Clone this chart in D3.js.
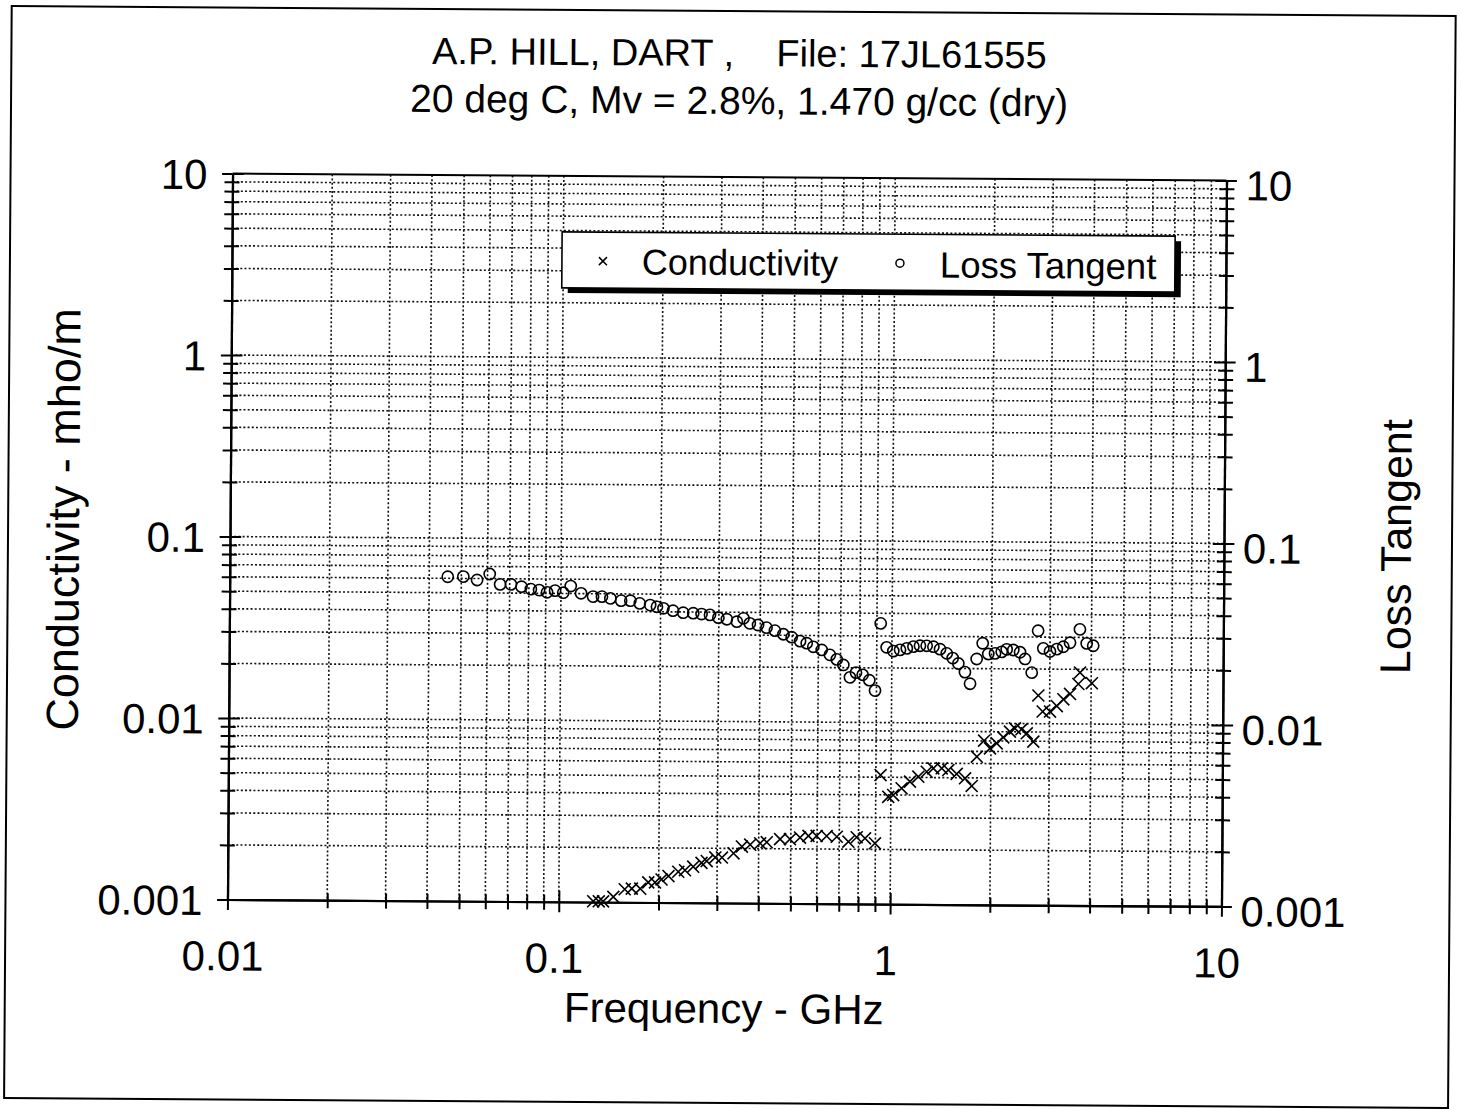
<!DOCTYPE html>
<html><head><meta charset="utf-8">
<script src="https://cdn.jsdelivr.net/npm/d3@7"></script>
<style>
html,body{margin:0;padding:0;background:#fff;}
svg text{font-family:"Liberation Sans",Arial,Helvetica,sans-serif;fill:#000;white-space:pre;}
</style></head>
<body>
<svg id="c" width="1461" height="1109"></svg>
<script>
// ---- data ----
const titleLines = ["A.P. HILL, DART ,    File: 17JL61555", "20 deg C, Mv = 2.8%, 1.470 g/cc (dry)"];
const xTickLabels = ["0.01", "0.1", "1", "10"];
const yTickLabels = ["0.001", "0.01", "0.1", "1", "10"];
const xTickValues = [0.01, 0.1, 1, 10];
const yTickValues = [0.001, 0.01, 0.1, 1, 10];

const lossFreq = [0.0455,0.0507,0.0558,0.0609,0.0655,0.0706,0.076,0.0811,0.0859,0.0908,0.096,0.1016,0.107,0.115,0.125,0.133,0.141,0.152,0.162,0.173,0.186,0.195,
  0.204,0.218,0.234,0.251,0.266,0.282,0.299,0.317,0.340,0.356,0.372,0.394,0.418,0.443,0.470,0.498,0.528,0.553,0.579,0.614,0.650,0.682,0.714,0.748,0.780,0.817,0.856,0.891,
  0.924,0.964,1.01,1.058,1.109,1.161,1.215,1.273,1.334,1.397,1.464,1.526,1.588,1.663,1.724,1.803,1.879,1.954,2.048,2.145,2.22,2.325,2.437,2.523,2.645,2.76,2.864,3.0,3.145,3.29,3.447,3.69,3.87,4.05];
const lossVal = [0.0612,0.0614,0.0589,0.0636,0.0558,0.0559,0.0543,0.0527,0.0521,0.0507,0.0518,0.0505,0.055,0.0502,0.0482,0.0482,0.0472,0.0459,0.0459,0.0444,0.0435,0.0426,
  0.0418,0.0406,0.0396,0.0394,0.039,0.0386,0.0373,0.0366,0.0355,0.0371,0.0348,0.0341,0.033,0.0318,0.0304,0.0293,0.0279,0.0272,0.026,0.025,0.0235,0.0222,0.0207,0.0177,0.0188,0.0183,0.0171,0.0150,
  0.0352,0.026,0.0248,0.0252,0.0257,0.0263,0.0266,0.0266,0.0263,0.0255,0.0242,0.0228,0.0213,0.0191,0.0165,0.0226,0.0276,0.0241,0.0243,0.0248,0.0256,0.0254,0.0247,0.0227,0.0191,0.0325,0.026,0.025,0.0258,0.0266,0.028,0.0332,0.0278,0.027];

const condFreq = [0.127,0.132,0.136,0.146,0.158,0.166,0.176,0.186,0.195,0.204,0.214,0.229,0.240,0.254,0.269,0.279,0.296,0.31,0.336,0.356,0.377,0.404,0.423,0.464,0.497,0.533,0.565,0.598,0.641,0.688,0.746,0.790,0.837,0.897,
  0.930,0.982,1.016,1.077,1.141,1.209,1.281,1.341,1.422,1.489,1.578,1.673,1.753,1.814,1.906,1.987,2.081,2.178,2.28,2.36,2.47,2.563,2.684,2.773,2.86,3.01,3.154,3.30,3.456,3.66,3.70,4.02];
const condVal = [0.00101,0.00101,0.00101,0.00107,0.00118,0.00119,0.00119,0.00129,0.00129,0.00134,0.0014,0.00148,0.00151,0.00158,0.00166,0.0017,0.00178,0.00178,0.00188,0.00205,0.0021,0.00214,0.00217,0.00226,0.00226,0.00231,0.00236,0.00236,0.00236,0.00234,0.0022,0.00233,0.0023,0.00216,
  0.00514,0.0039,0.00399,0.00435,0.00474,0.00505,0.00538,0.00562,0.00563,0.00551,0.00525,0.00497,0.00451,0.00654,0.00802,0.00728,0.00777,0.00838,0.00902,0.0094,0.0093,0.00884,0.00796,0.0143,0.01167,0.01167,0.01253,0.01365,0.01462,0.0166,0.0192,0.0168];

const legendLabels = ["Conductivity", "Loss Tangent"];
const xTitle = "Frequency - GHz";
const yTitle = "Conductivity - mho/m";
const y2Title = "Loss Tangent";

// ---- layout ----
const L = 230, R = 1224, T = 177, B = 903;
const svg = d3.select("#c");
const g = svg.append("g").attr("transform", "rotate(0.4,727,540)");

const x = d3.scaleLog().domain([0.01, 10]).range([L, R]);
const y = d3.scaleLog().domain([0.001, 10]).range([B, T]);
const y2 = d3.scaleLog().domain([0.001, 10]).range([B, T]);

// outer frame
g.append("rect").attr("x", 8).attr("y", 11).attr("width", 1444).attr("height", 1092)
  .attr("fill", "none").attr("stroke", "#000").attr("stroke-width", 2);

// titles
g.selectAll("text.title").data(titleLines).join("text").attr("class", "title")
  .attr("x", 736).attr("y", (d, i) => 66 + i * 48).attr("text-anchor", "middle")
  .attr("font-size", (d, i) => i === 0 ? 38 : 39).text(d => d);

// gridlines (dotted)
const xAll = x.ticks().filter(v => v > 0.0100001 && v < 9.9999);
const yAll = y.ticks().filter(v => v > 0.0010001 && v < 9.9999);
const grid = g.append("g").attr("stroke", "#111").attr("stroke-width", 1.6).attr("stroke-dasharray", "2,2.2");
grid.selectAll("line.v").data(xAll).join("line").attr("class", "v")
  .attr("x1", d => x(d)).attr("x2", d => x(d)).attr("y1", T).attr("y2", B);
grid.selectAll("line.h").data(yAll).join("line").attr("class", "h")
  .attr("x1", L).attr("x2", R).attr("y1", d => y(d)).attr("y2", d => y(d));

// plot frame top
g.append("line").attr("x1", L).attr("x2", R).attr("y1", T).attr("y2", T).attr("stroke", "#000").attr("stroke-width", 2);

// axes with crossing ticks
const isMajor = v => Math.abs(Math.log10(v) - Math.round(Math.log10(v))) < 1e-6;
function styleAxis(sel) {
  sel.select(".domain").attr("stroke", "#000").attr("stroke-width", 2.2);
  sel.selectAll(".tick line").attr("stroke", "#000").attr("stroke-width", 2);
  sel.selectAll(".tick text").remove();
}
function scaleTick(sel, k) {
  sel.selectAll(".tick line").filter(d => isMajor(d))
    .attr("x2", function(){ const v = d3.select(this).attr("x2"); return v ? v * k : null; })
    .attr("y2", function(){ const v = d3.select(this).attr("y2"); return v ? v * k : null; });
}
function crossAxis(axisOut, axisIn, scale, transform) {
  const ticks = scale.ticks();
  const a1 = g.append("g").attr("transform", transform)
    .call(axisOut(scale).tickValues(ticks).tickSizeOuter(0).tickSizeInner(8).tickFormat(""));
  scaleTick(a1, 1.3); styleAxis(a1);
  const a2 = g.append("g").attr("transform", transform)
    .call(axisIn(scale).tickValues(ticks).tickSizeOuter(0).tickSizeInner(7).tickFormat(""));
  scaleTick(a2, 1.6); styleAxis(a2);
}
crossAxis(d3.axisLeft, d3.axisRight, y, `translate(${L},0)`);
crossAxis(d3.axisRight, d3.axisLeft, y2, `translate(${R},0)`);
crossAxis(d3.axisBottom, d3.axisTop, x, `translate(0,${B})`);

// tick labels via axes
const fs = 42;
const lab = g.append("g").attr("transform", `translate(${L - 25},0)`)
  .call(d3.axisLeft(y).tickValues(yTickValues).tickSize(0).tickFormat((d, i) => yTickLabels[i]));
lab.select(".domain").remove();
lab.selectAll("text").attr("font-size", fs).attr("font-family", null).attr("dy", "0.36em").attr("x", 0);
const lab2 = g.append("g").attr("transform", `translate(${R + 19},0)`)
  .call(d3.axisRight(y2).tickValues(yTickValues).tickSize(0).tickFormat((d, i) => yTickLabels[i]));
lab2.select(".domain").remove();
lab2.selectAll("text").attr("font-size", fs).attr("font-family", null).attr("dy", "0.36em").attr("x", 0).attr("y", 4);
const lab3 = g.append("g").attr("transform", `translate(-5,${B + 71})`)
  .call(d3.axisBottom(x).tickValues(xTickValues).tickSize(0).tickFormat((d, i) => xTickLabels[i]));
lab3.select(".domain").remove();
lab3.selectAll("text").attr("font-size", fs).attr("font-family", null).attr("dy", 0).attr("y", 0);

// axis titles
g.append("text").attr("x", 727).attr("y", 1023).attr("text-anchor", "middle").attr("font-size", 42).text(xTitle);
g.append("text").attr("transform", "translate(79,524) rotate(-90)").attr("text-anchor", "middle").attr("font-size", 45).text(yTitle);
g.append("text").attr("transform", "translate(1411,542) rotate(-90)").attr("text-anchor", "middle").attr("font-size", 43).text(y2Title);

// data marks
const plot = g.append("g");
plot.selectAll("circle.lt").data(lossFreq.map((f, i) => [f, lossVal[i]])).join("circle").attr("class", "lt")
  .attr("cx", d => x(d[0])).attr("cy", d => y2(d[1])).attr("r", 5.6)
  .attr("fill", "none").attr("stroke", "#000").attr("stroke-width", 1.6);
const cs = 6;
plot.selectAll("path.cd").data(condFreq.map((f, i) => [f, condVal[i]])).join("path").attr("class", "cd")
  .attr("d", d => { const cx = x(d[0]), cy = y(d[1]); return `M${cx-cs},${cy-cs}L${cx+cs},${cy+cs}M${cx-cs},${cy+cs}L${cx+cs},${cy-cs}`; })
  .attr("stroke", "#000").attr("stroke-width", 1.6).attr("fill", "none");

// legend
const lg = g.append("g");
lg.append("rect").attr("x", 566).attr("y", 238).attr("width", 613).attr("height", 56).attr("fill", "#000");
lg.append("rect").attr("x", 560).attr("y", 233).attr("width", 613).attr("height", 56).attr("fill", "#fff").attr("stroke", "#000").attr("stroke-width", 1.6);
const lx = 601, ly = 262, ls = 4;
lg.append("path").attr("d", `M${lx-ls},${ly-ls}L${lx+ls},${ly+ls}M${lx-ls},${ly+ls}L${lx+ls},${ly-ls}`).attr("stroke", "#000").attr("stroke-width", 1.5);
lg.append("circle").attr("cx", 898).attr("cy", 262).attr("r", 4).attr("fill", "none").attr("stroke", "#000").attr("stroke-width", 1.5);
lg.append("text").attr("x", 640).attr("y", 275).attr("font-size", 36).text(legendLabels[0]);
lg.append("text").attr("x", 938).attr("y", 276).attr("font-size", 36.5).text(legendLabels[1]);
</script>
</body></html>
